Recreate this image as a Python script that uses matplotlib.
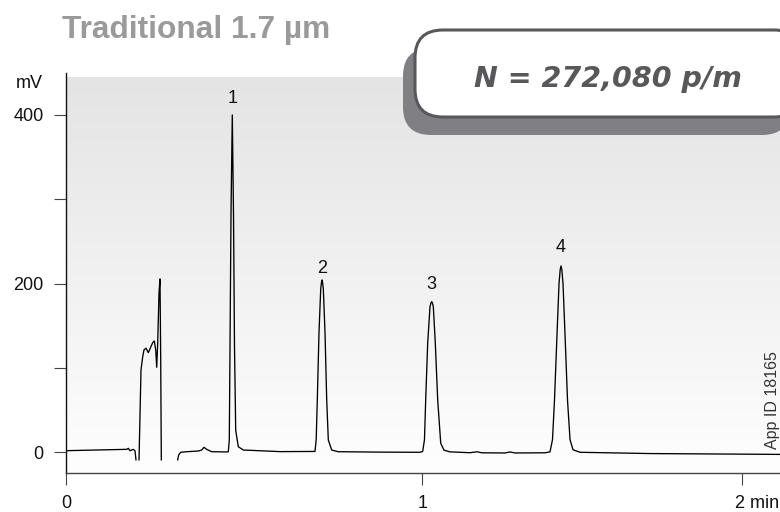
import numpy as np
from matplotlib import pyplot as plt
from matplotlib.colors import LinearSegmentedColormap
from matplotlib.patches import FancyBboxPatch
from matplotlib.transforms import ScaledTranslation

plt.rcParams['font.family'] = ['Liberation Sans', 'DejaVu Sans']

# detector trace (time in min, signal in mV); None marks where the signal runs off scale
trace_time = [0.0, 0.1703, 0.1749, 0.1796, 0.1889, 0.1936, 0.1964, None,
              0.2049, 0.2105, 0.2153, 0.2189, 0.2245, 0.2310, 0.2377, 0.2433, 0.2478,
              0.2518, 0.2546, 0.2574, 0.2610, 0.2638, 0.2658, 0.2675, None,
              0.3134, 0.3162, 0.3219, 0.3387, 0.3713, 0.3808, 0.3873, 0.3948, 0.4089, 0.4510,
              0.4555, 0.4583, 0.4603, 0.4631, 0.4667, 0.4701, 0.4729, 0.4763, 0.4836, 0.4976,
              0.6006, 0.6988, 0.7022, 0.7053, 0.7101, 0.7149, 0.7170, 0.7185, 0.7200, 0.7222,
              0.7269, 0.7317, 0.7362, 0.7457, 0.7634, 0.8813, 0.9935,
              1.0011, 1.0061, 1.0095, 1.0151, 1.0216, 1.0245, 1.0264, 1.0283, 1.0309, 1.0365,
              1.0432, 1.0517, 1.0609, 1.0777, 1.1339, 1.1535, 1.1675, 1.2321, 1.2461, 1.2602,
              1.3443, 1.3584, 1.3654, 1.3710, 1.3781, 1.3837, 1.3870, 1.3893, 1.3916, 1.3949,
              1.4005, 1.4075, 1.4146, 1.4230, 1.4426, 1.6390, 2.0039]
trace_mv = [1.9, 3.5, 4.7, 1.9, 3.5, 1.9, -9, None,
            -9, 97.7, 113.4, 121.4, 123.4, 118.1, 124.6, 130, 132,
            121.4, 100.8, 129.7, 188.6, 205.6, 109.5, -9, None,
            -9, -3.2, 0, 0.7, 1.5, 2.7, 5.9, 3.5, 0.7, 0.4,
            0.7, 14.6, 125, 283, 400, 283, 125, 26, 6.6, 2.7,
            0.8, 1.0, 15, 62, 142.6, 193.7, 201.5, 204.4, 201.5, 193.7,
            142.6, 62, 14.6, 2.7, 0.7, 0.2, 0,
            1, 15, 62, 129.3, 172.7, 177.2, 178.6, 177.2, 172.7, 129.3,
            62, 10.7, 2.5, 0.5, -0.5, 0.6, -0.6, -0.8, 0.4, -0.8,
            -0.6, 0.5, 15, 62, 140, 200, 216.5, 221, 216.5, 200,
            140, 62, 15, 3, 0, -1.5, -2.5]

peak_names = ['1', '2', '3', '4']
peak_time = [0.4667, 0.7185, 1.0264, 1.3893]
peak_mv = [400, 204.4, 178.6, 221]
label_gap = [6, 2, 6, 7]

ytick_vals = [0, 100, 200, 300, 400]
ytick_text = ['0', '', '200', '', '400']
xtick_vals = [0, 1, 1.898]
xtick_text = ['0', '1', '2 min']

fig = plt.figure(figsize=(7.8, 5.12), dpi=100)
ax = fig.add_axes([66 / 780, 39.3 / 512, 714 / 780, 395.7 / 512])

xlim = (0, 2.0039)
ylim = (-24.2, 445)

# soft grey-to-white wash behind the trace
wash = LinearSegmentedColormap.from_list('wash', ['#e4e4e5', '#fefefe'])
grad = np.linspace(0, 1, 256).reshape(-1, 1)
ax.imshow(grad, cmap=wash, aspect='auto',
          extent=[xlim[0], xlim[1], ylim[0], ylim[1]], origin='upper', zorder=0)

t = np.array([np.nan if v is None else v for v in trace_time], dtype=float)
mv = np.array([np.nan if v is None else v for v in trace_mv], dtype=float)
ax.plot(t, mv, color='black', lw=0.95, zorder=2, solid_joinstyle='round')

for name, pt, pv, gap in zip(peak_names, peak_time, peak_mv, label_gap):
    ax.annotate(name, (pt, pv), xytext=(0, gap), textcoords='offset points',
                ha='center', va='bottom', fontsize=13, color='#111111')

ax.set_xlim(*xlim)
ax.set_ylim(*ylim)
ax.set_yticks(ytick_vals)
ax.set_yticklabels(ytick_text)
ax.set_xticks(xtick_vals)
ax.set_xticklabels(xtick_text)
ax.tick_params(axis='both', direction='out', length=8.6, width=0.8, color='#444444',
               labelsize=13, labelcolor='#111111', pad=7.5)
# the unit sits after the last number, so shift that label to start under its tick
last = ax.get_xticklabels()[-1]
last.set_horizontalalignment('left')
last.set_transform(last.get_transform() + ScaledTranslation(-5 / 72, 0, fig.dpi_scale_trans))

for side in ['top', 'right']:
    ax.spines[side].set_visible(False)
ax.spines['left'].set_color('#111111')
ax.spines['left'].set_linewidth(1.0)
ax.spines['left'].set_bounds(ylim[0], 450)
ax.spines['bottom'].set_color('#444444')
ax.spines['bottom'].set_linewidth(1.0)

fig.text(43 / 780, 1 - 83 / 512, 'mV', ha='right', va='center', fontsize=13, color='#111111')
fig.text(62 / 780, 1 - 38.3 / 512, 'Traditional 1.7 µm', ha='left', va='baseline',
         fontsize=22.8, fontweight='bold', color='#9a9a9c')
ax.text(0.99, 0.06, 'App ID 18165', transform=ax.transAxes, rotation=90,
        ha='center', va='bottom', fontsize=11.5, color='#333333')

# efficiency call-out: drop shadow, then the rounded white box
shadow = FancyBboxPatch((4.03, 3.77), 3.87, 0.87, boxstyle='round,pad=0,rounding_size=0.28',
                        transform=fig.dpi_scale_trans, facecolor='#808084', edgecolor='none')
box = FancyBboxPatch((4.15, 3.95), 3.87, 0.87, boxstyle='round,pad=0,rounding_size=0.28',
                     transform=fig.dpi_scale_trans, facecolor='white', edgecolor='#58585a',
                     linewidth=2.2)
fig.add_artist(shadow)
fig.add_artist(box)
fig.text(6.085 / 7.8, 1 - 79 / 512, 'N = 272,080 p/m', ha='center', va='center',
         fontsize=20.5, fontweight='bold', fontstyle='italic', color='#58585a',
         family=['DejaVu Sans'])

fig.savefig('out.png', dpi=100)
